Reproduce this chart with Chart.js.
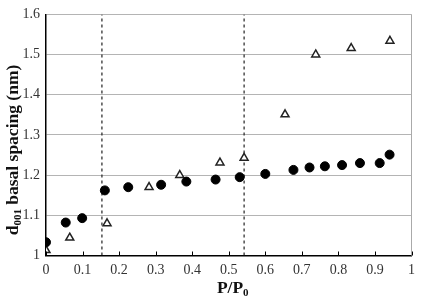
<!DOCTYPE html>
<html>
<head>
<meta charset="utf-8">
<script src="https://cdn.jsdelivr.net/npm/chart.js@4"></script>
<style>
  html, body { margin: 0; padding: 0; background: #fff; }
  #wrap { width: 421px; height: 298px; }
</style>
</head>
<body>
<div id="wrap"><canvas id="spacingChart"></canvas></div>
<script>
//#region Data
const circleX = [0, 0.054, 0.099, 0.161, 0.225, 0.315, 0.384, 0.464, 0.530, 0.600, 0.677, 0.721, 0.763, 0.810, 0.859, 0.913, 0.940];
const circleY = [1.033, 1.082, 1.093, 1.162, 1.170, 1.176, 1.184, 1.189, 1.195, 1.203, 1.213, 1.219, 1.222, 1.225, 1.230, 1.230, 1.251];
const triangleX = [0, 0.065, 0.167, 0.282, 0.366, 0.476, 0.542, 0.654, 0.738, 0.835, 0.941];
const triangleY = [1.013, 1.044, 1.080, 1.170, 1.200, 1.231, 1.243, 1.351, 1.500, 1.516, 1.534];
const dividerX = [0.153, 0.542];
const yTicks = [1, 1.1, 1.2, 1.3, 1.4, 1.5, 1.6];
const xTicks = [0, 0.1, 0.2, 0.3, 0.4, 0.5, 0.6, 0.7, 0.8, 0.9, 1];
//#endregion

//#region Helpers
function pairs(xs, ys) {
    return xs.map((x, i) => ({ x: x, y: ys[i] }));
}

const SERIF = "'Liberation Serif', 'DejaVu Serif', serif";

// draws a title with a subscript part: [text, sub, text...]
function drawSubText(ctx, parts, size) {
    const subSize = Math.round(size * 0.62);
    let total = 0;
    parts.forEach((p, i) => {
        ctx.font = "bold " + (i % 2 ? subSize : size) + "px " + SERIF;
        total += ctx.measureText(p).width;
    });
    let x = -total / 2;
    parts.forEach((p, i) => {
        const sub = i % 2 === 1;
        ctx.font = "bold " + (sub ? subSize : size) + "px " + SERIF;
        ctx.fillText(p, x, sub ? 5 : 0);
        x += ctx.measureText(p).width;
    });
}

const framePlugin = {
    id: "frame",
    afterDraw(chart) {
        const ctx = chart.ctx;
        const a = chart.chartArea;
        const xs = chart.scales.x;
        ctx.save();
        // right border in grey
        ctx.strokeStyle = "#aaaaaa";
        ctx.lineWidth = 1;
        ctx.beginPath();
        ctx.moveTo(a.right, a.top);
        ctx.lineTo(a.right, a.bottom);
        ctx.stroke();
        // inward x tick marks
        ctx.strokeStyle = "#000";
        xTicks.forEach(t => {
            const px = Math.round(xs.getPixelForValue(t)) + 0.5;
            ctx.beginPath();
            ctx.moveTo(px, a.bottom);
            ctx.lineTo(px, a.bottom - 4);
            ctx.stroke();
        });
        // axis titles
        ctx.fillStyle = "#111";
        ctx.textBaseline = "middle";
        ctx.textAlign = "left";
        ctx.save();
        ctx.translate(13, 150);
        ctx.rotate(-Math.PI / 2);
        drawSubText(ctx, ["d", "001", " basal spacing (nm)"], 17.5);
        ctx.restore();
        ctx.save();
        ctx.translate((a.left + a.right) / 2 + 4, 288);
        drawSubText(ctx, ["P/P", "0"], 17.5);
        ctx.restore();
        ctx.restore();
    }
};
//#endregion

//#region Load Spacing Chart
function LoadSpacingChart() {
    const element = document.querySelector("#spacingChart");
    const dividerSets = dividerX.map(x => ({
        type: "line",
        data: [{ x: x, y: yTicks[0] }, { x: x, y: yTicks[yTicks.length - 1] }],
        borderColor: "#222",
        borderWidth: 1.2,
        borderDash: [3, 3],
        pointRadius: 0,
        fill: false
    }));
    new Chart(element, {
        type: "scatter",
        data: {
            datasets: [{
                data: pairs(circleX, circleY),
                pointStyle: "circle",
                pointRadius: 4.5,
                backgroundColor: "#000",
                borderColor: "#000",
                borderWidth: 1
            }, {
                data: pairs(triangleX, triangleY),
                pointStyle: "triangle",
                pointRadius: 4.6,
                backgroundColor: "#fff",
                borderColor: "#222",
                borderWidth: 1.5
            }, ...dividerSets]
        },
        options: {
            responsive: true,
            maintainAspectRatio: false,
            animation: false,
            layout: { padding: { top: 7, right: 6, left: 0, bottom: 0 } },
            plugins: {
                legend: { display: false },
                tooltip: { enabled: false }
            },
            scales: {
                x: {
                    type: "linear",
                    min: 0,
                    max: 1,
                    afterBuildTicks: s => { s.ticks = xTicks.map(v => ({ value: v })); },
                    afterFit: s => { s.height = 42.5; },
                    grid: { display: false, drawTicks: false },
                    border: { display: true, color: "#000", width: 1.5 },
                    ticks: {
                        padding: 6,
                        color: "#333",
                        font: { family: SERIF, size: 14 },
                        callback: v => String(v)
                    }
                },
                y: {
                    type: "linear",
                    min: 1,
                    max: 1.6,
                    afterBuildTicks: s => { s.ticks = yTicks.map(v => ({ value: v })); },
                    afterFit: s => { s.width = 46; },
                    grid: { color: "#b4b4b4", lineWidth: 1, drawTicks: false },
                    border: { display: true, color: "#000", width: 1.5 },
                    ticks: {
                        padding: 6,
                        color: "#333",
                        font: { family: SERIF, size: 14 },
                        callback: v => String(v)
                    }
                }
            }
        },
        plugins: [framePlugin]
    });
}
//#endregion

window.addEventListener("DOMContentLoaded", () => {
    LoadSpacingChart();
});
</script>
</body>
</html>
